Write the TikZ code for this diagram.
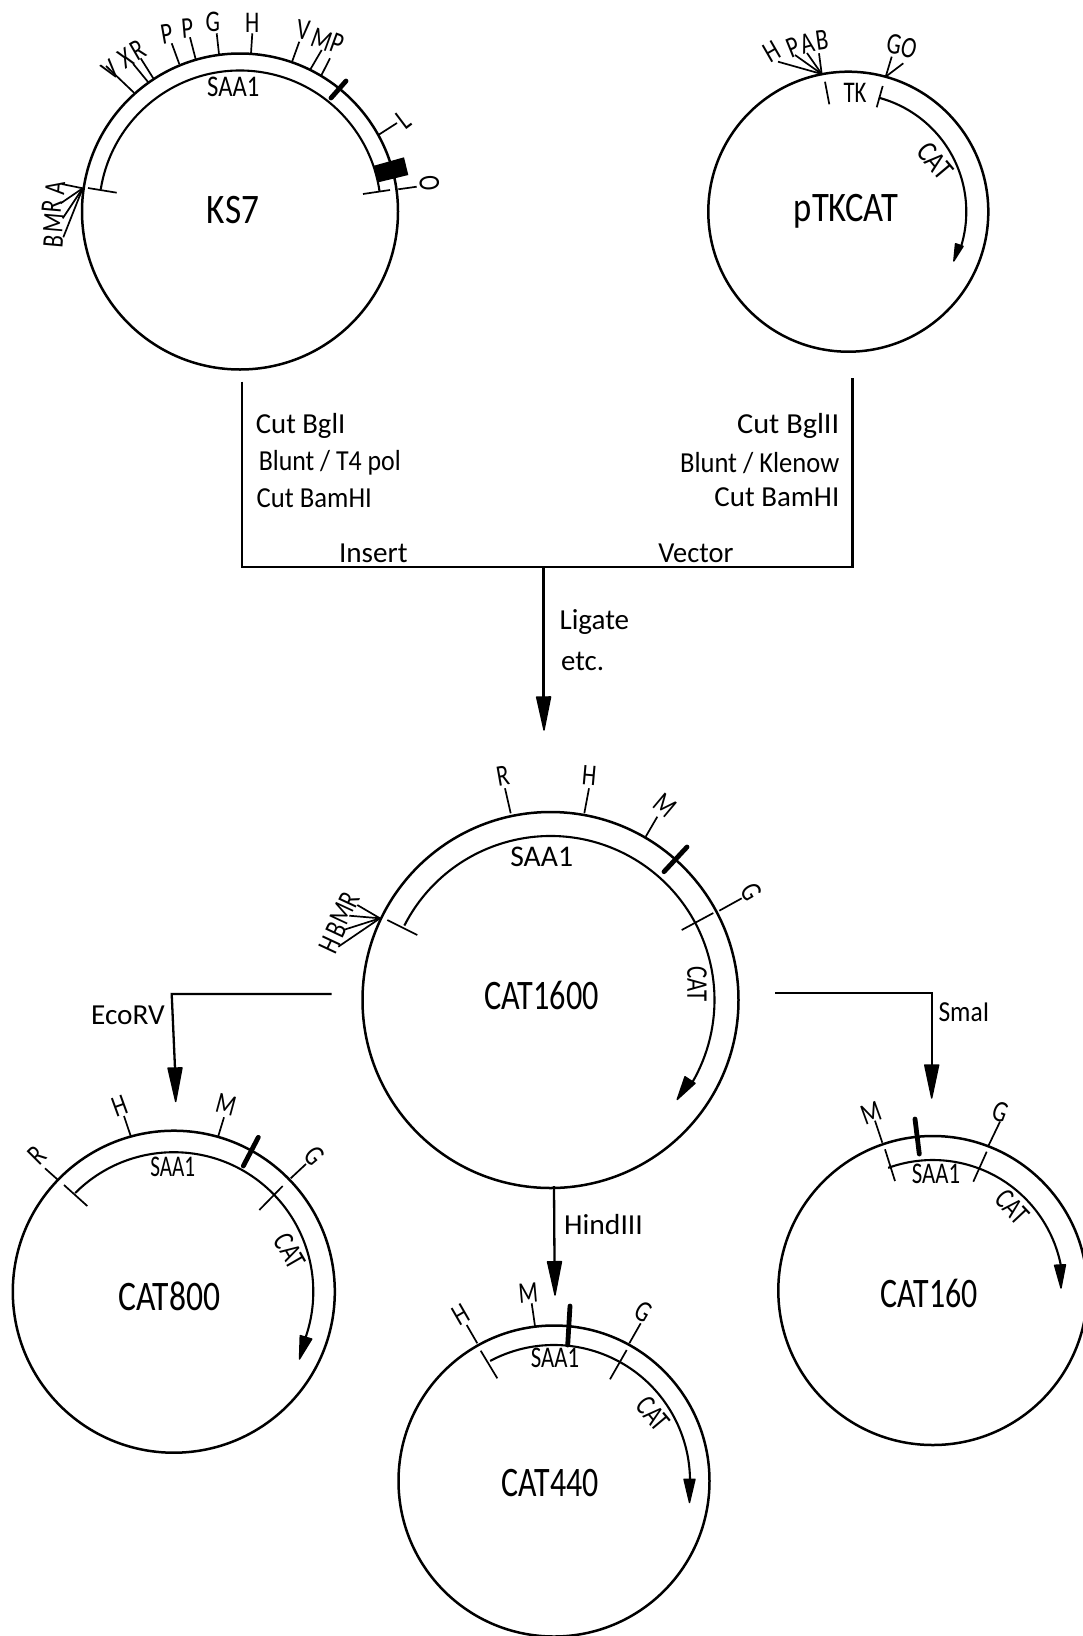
\documentclass[tikz,border=0pt]{standalone}
\usepackage{fontspec}
\usetikzlibrary{calc}
\newfontfamily\labf[FakeStretch=0.76]{Carlito}
\newfontfamily\namef[FakeStretch=0.8]{Carlito}
\newfontfamily\txtf[FakeStretch=0.92]{Carlito}
\newcommand\sx[2]{\scalebox{#1}[1]{#2}}
\tikzset{
  plasmid/.style={circle,draw=black,line width=2.5pt,inner sep=0pt,fill=none},
  arcline/.style={line width=2.1pt},
  ticko/.style={line width=1.7pt},
  thick bar/.style={line width=4.8pt},
  flow/.style={line width=2.3pt,line join=miter},
  bigname/.style={font=\namef\fontsize{42}{42}\selectfont,inner sep=0pt},
  sitelab/.style={font=\labf\fontsize{30}{30}\selectfont,inner sep=0pt},
  genelab/.style={font=\labf\fontsize{30}{30}\selectfont,inner sep=0pt},
  steplab/.style={font=\txtf\fontsize{29}{29}\selectfont,inner sep=0pt},
}
% name, x1,y1, x2,y2, lx,ly, rot, text
\newcommand\Site[9]{%
  \coordinate (#1-a) at (#2,#3);
  \coordinate (#1-b) at (#4,#5);
  \draw[ticko] (#1-a) -- (#1-b);
  \node[sitelab,rotate=#8] (#1) at (#6,#7) {#9};
}
% name, x1,y1,x2,y2
\newcommand\Tick[5]{%
  \coordinate (#1-a) at (#2,#3);
  \coordinate (#1-b) at (#4,#5);
  \draw[ticko] (#1-a) -- (#1-b);
}
\newcommand\Bar[5]{%
  \coordinate (#1-a) at (#2,#3);
  \coordinate (#1-b) at (#4,#5);
  \draw[thick bar,line cap=round] (#1-a) -- (#1-b);
}
% node, radius, a1, a2
\newcommand\Gene[4]{%
  \draw[arcline] ([shift={(#3:#2pt)}]#1.center) arc[start angle=#3,end angle=#4,radius=#2pt];
}
% name, bx,by, tx,ty, halfwidth
\newcommand\Head[6]{%
  \coordinate (#1-b) at (#2,#3);
  \coordinate (#1-t) at (#4,#5);
  \fill[draw=black,line width=1.4pt,line join=round]
    ($(#1-b)!#6pt!90:(#1-t)$) -- ($(#1-b)!#6pt!-90:(#1-t)$) -- (#1-t) -- cycle;
}
\begin{document}
\begin{tikzpicture}[x=1pt,y=-1pt]
\useasboundingbox (0,0) rectangle (1082,1636);
% ---------- KS7
\node[plasmid,minimum size=316pt] (ks7) at (240,211.5) {};
\node[bigname] (ks7n) at (233,210) {\sx{1.05}{KS7}};
\Gene{ks7}{141}{171}{8}
\Tick{ks7t1}{88}{188}{116.7}{192.7}
\Tick{ks7t2}{363}{194}{390}{190}
\Bar{ks7bar}{331}{98}{346}{81}
\fill (374,165.7) -- (404,157.3) -- (408.3,175) -- (378.3,182.3) -- cycle;
\node[genelab] (ks7saa) at (233.3,87) {\sx{1.08}{SAA1}};
\Site{k1}{134}{92.7}{106}{66}{111}{70}{38}{V}
\Site{k2}{148.3}{82.3}{133.3}{64}{126}{58.3}{30}{X}
\Site{k3}{153.3}{78.3}{140.7}{58.3}{138}{50}{30}{R}
\Site{k4}{179.3}{64}{171.7}{43.3}{166.7}{34.3}{10}{P}
\Site{k5}{195.7}{59.3}{190}{37.3}{187.3}{28.3}{5}{P}
\Site{k6}{219}{54}{216.7}{33.3}{212.7}{21.7}{0}{G}
\Site{k7}{251}{53.3}{252.3}{33.3}{252.3}{22.7}{0}{H}
\Site{k8}{291.7}{62.7}{299.3}{41.7}{303.3}{30}{-8}{V}
\Site{k9}{310}{70}{321.7}{50}{321.7}{39.3}{-20}{M}
\Site{k10}{321}{76}{330}{58.3}{337.3}{43.3}{-20}{P}
\Site{k11}{378.3}{135}{397}{123}{404}{120}{37}{L}
\Site{k12}{398.3}{189.3}{416.7}{186.7}{429.3}{183.3}{-85}{O}
\Site{k13}{82.7}{188.3}{61.7}{184}{55}{188.3}{85}{A}
\Site{k14}{82.7}{188.3}{60.7}{203.3}{51.7}{206.7}{85}{R}
\Site{k15}{82.7}{188.3}{62.7}{218.3}{53.3}{223.3}{85}{M}
\Site{k16}{82.7}{188.3}{63.3}{237.3}{53.3}{241.7}{85}{B}
% ---------- pTKCAT
\node[plasmid,minimum size=280pt] (ptk) at (848.3,211.7) {};
\node[bigname] (ptkn) at (846,211) {\sx{1.03}{pTKCAT}};
\Gene{ptk}{118}{75}{-17}
\Head{ptkh}{959.3}{245}{953.8}{261}{4}
\Tick{ptkt1}{825}{81.7}{829.3}{104.3}
\Tick{ptkt2}{882.7}{86}{876.7}{107.3}
\node[genelab] (ptktk) at (855,93.3) {TK};
\node[genelab,rotate=-50] (ptkcat) at (935,161) {\sx{1.1}{CAT}};
\Site{p1}{821.7}{74}{778}{61.7}{772}{52}{30}{H}
\Site{p2}{821.7}{74}{795}{55}{793}{47}{22}{P}
\Site{p3}{821.7}{74}{807}{53}{807}{43}{15}{A}
\Site{p4}{821.7}{74}{819}{53.3}{822}{40}{8}{B}
\Site{p5}{885.7}{76.7}{891.7}{56.7}{894}{44.3}{-10}{G}
\Site{p6}{885.7}{76.7}{903.3}{63.3}{909}{48.3}{-15}{O}
% ---------- flow from parents to CAT1600
\coordinate (fl) at (242,381.7);
\coordinate (flb) at (242,566.7);
\coordinate (frb) at (852.5,566.7);
\coordinate (fr) at (852.5,378);
\coordinate (fm) at (543.6,566.7);
\draw[flow] (fl) -- (flb) -- (frb) -- (fr);
\Head{fmh}{543.6}{697}{544}{730}{7}
\draw[flow] (fm) -- (fmh-b);
\node[steplab,anchor=west] (a1) at (255.7,426) {\sx{1.076}{Cut BglI}};
\node[steplab,anchor=west] (a2) at (258.6,462.7) {\sx{0.97}{Blunt / T4 pol}};
\node[steplab,anchor=west] (a3) at (256.5,498.3) {Cut BamHI};
\node[steplab,anchor=east] (b1) at (839.5,426) {\sx{1.137}{Cut BglII}};
\node[steplab,anchor=east] (b2) at (839.5,462.7) {\sx{0.995}{Blunt / Klenow}};
\node[steplab,anchor=east] (b3) at (839.5,496.7) {\sx{1.084}{Cut BamHI}};
\node[steplab] (ins) at (373.3,553.3) {\sx{1.094}{Insert}};
\node[steplab] (vec) at (695.9,553.3) {\sx{1.065}{Vector}};
\node[steplab,anchor=west] (lig) at (559.4,621.7) {\sx{1.09}{Ligate}};
\node[steplab,anchor=west] (etc) at (561,661.7) {\sx{1.08}{etc.}};
% ---------- CAT1600
\node[plasmid,minimum size=376pt] (c16) at (550.5,1000) {};
\node[bigname] (c16n) at (541.7,995) {\sx{0.96}{CAT1600}};
\Gene{c16}{164}{153}{-30}
\Head{c16h}{690}{1080}{677.2}{1099.5}{6}
\Tick{c16t1}{387.3}{920}{417.3}{935}
\Tick{c16t2}{681.7}{930}{713.3}{913}
\Bar{c16bar}{664}{871.7}{687}{847}
\node[genelab] (c16saa) at (541.7,857.3) {\sx{1.3}{SAA1}};
\node[genelab,rotate=-90] (c16cat) at (697,984) {CAT};
\Site{c1}{510.7}{813.3}{505}{788.3}{502.7}{776}{10}{R}
\Site{c2}{584.3}{813.3}{589}{788.3}{589.3}{776}{-5}{H}
\Site{c3}{645.7}{836.7}{657.3}{816.7}{665}{805}{-40}{M}
\Site{c4}{719.3}{910.7}{741.7}{898.3}{751.7}{891.7}{-60}{G}
\Site{c5}{380}{918.3}{357.3}{905}{349.3}{900}{65}{R}
\Site{c6}{380}{918.3}{349.3}{915.7}{341.7}{913.3}{65}{M}
\Site{c7}{380}{918.3}{343.3}{930}{336.7}{930}{65}{B}
\Site{c8}{380}{918.3}{338.3}{946.7}{329.3}{945}{65}{H}
% ---------- cuts
\coordinate (e1) at (331.7,994);
\coordinate (e2) at (171.7,994);
\Head{eh}{175}{1068}{175.7}{1101.5}{7}
\draw[flow] (e1) -- (e2) -- (eh-b);
\node[steplab,anchor=east] (eco) at (165,1015) {\sx{1.098}{EcoRV}};
\coordinate (s1) at (775,992.7);
\coordinate (s2) at (931.7,992.7);
\Head{sh}{931.7}{1065}{931.7}{1098}{7}
\draw[flow] (s1) -- (s2) -- (sh-b);
\node[steplab,anchor=west] (sma) at (938.3,1011.7) {\sx{0.955}{SmaI}};
\coordinate (h1) at (554,1186);
\Head{hh}{554.5}{1261.7}{555}{1295}{7}
\draw[flow] (h1) -- (hh-b);
\node[steplab,anchor=west] (hin) at (564,1225) {\sx{1.11}{HindIII}};
% ---------- CAT800
\node[plasmid,minimum size=322pt] (c8) at (173.8,1291.7) {};
\node[bigname] (c8n) at (169.3,1296) {CAT800};
\Gene{c8}{139.5}{135}{-19}
\Head{c8h}{306}{1337.3}{299.5}{1359}{6}
\Tick{c8t1}{64}{1185}{87.3}{1206}
\Tick{c8t2}{282.7}{1186}{259.3}{1210}
\Bar{c8bar}{243.3}{1166}{258.3}{1137.3}
\node[genelab] (c8saa) at (172.7,1167.3) {\sx{0.93}{SAA1}};
\node[genelab,rotate=-60] (c8cat) at (290,1251) {CAT};
\Site{e1s}{57.3}{1179.3}{45}{1168.3}{36.7}{1155}{45}{R}
\Site{e2s}{130.7}{1136}{124}{1116}{120}{1106}{20}{H}
\Site{e3s}{218.3}{1136}{224}{1117.3}{226}{1105}{-15}{M}
\Site{e4s}{290.7}{1178.3}{306}{1164}{314}{1156}{-50}{G}
% ---------- CAT440
\node[plasmid,minimum size=311pt] (c44) at (554,1481) {};
\node[bigname] (c44n) at (550,1483) {\sx{0.95}{CAT440}};
\Gene{c44}{136}{118}{0}
\Head{c44h}{689.5}{1479.3}{689.5}{1502.5}{5.5}
\Tick{c44t1}{480.7}{1350.7}{497.3}{1378.3}
\Tick{c44t2}{626.7}{1350}{610}{1379.3}
\Bar{c44bar}{570}{1306}{567.7}{1345}
\node[genelab] (c44saa) at (555,1358.3) {SAA1};
\node[genelab,rotate=-50] (c44cat) at (653,1414) {CAT};
\Site{f1}{535}{1326}{531.7}{1303.3}{528.3}{1293.3}{5}{M}
\Site{f2}{477.3}{1343.3}{466.7}{1325}{460.7}{1315}{30}{H}
\Site{f3}{629.3}{1343.3}{640.7}{1323.3}{644}{1311.7}{-30}{G}
% ---------- CAT160
\node[plasmid,minimum size=309pt] (c1) at (932.8,1290.5) {};
\node[bigname] (c1n) at (929.3,1293.3) {\sx{0.95}{CAT160}};
\Gene{c1}{130.5}{110}{11}
\Head{c1h}{1060}{1265}{1061}{1288}{5.5}
\Tick{c1t1}{885}{1149.3}{895}{1181}
\Tick{c1t2}{986.7}{1151.7}{973.3}{1181.7}
\Bar{c1bar}{915}{1119}{919.3}{1154}
\node[genelab] (c1saa) at (936,1174) {SAA1};
\node[genelab,rotate=-47] (c1cat) at (1012,1207) {CAT};
\Site{g1}{882.3}{1142.7}{875}{1120.7}{871}{1112.7}{20}{M}
\Site{g2}{988.3}{1146}{1000}{1121.7}{1000.7}{1111.7}{-20}{G}
\end{tikzpicture}
\end{document}
